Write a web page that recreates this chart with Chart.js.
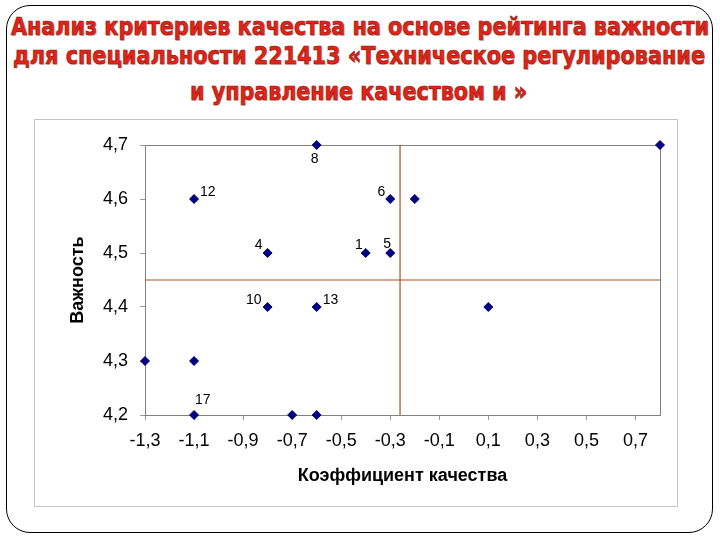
<!DOCTYPE html>
<html>
<head>
<meta charset="utf-8">
<script src="https://cdn.jsdelivr.net/npm/chart.js@4/dist/chart.umd.min.js"></script>
<style>
  html, body { margin: 0; padding: 0; background: #fff; }
  #slide { position: relative; width: 720px; height: 540px; overflow: hidden; background: #fff; }
  #frame {
    position: absolute; left: 6px; top: 5px; width: 707px; height: 528px;
    border: 1.5px solid #000; border-radius: 24px; box-sizing: border-box;
  }
  .tl {
    position: absolute; white-space: nowrap;
    font: bold 25px "DejaVu Sans"; line-height: 25px;
    color: #E2231A; -webkit-text-stroke: 0.7px #8E1A10;
    text-shadow: 1px 1px 1px rgba(150, 60, 40, 0.35);
    transform-origin: 0 0;
  }
  #box {
    position: absolute; left: 34px; top: 119px; width: 644px; height: 388px;
    border: 1px solid #c4c4c4; box-sizing: border-box;
  }
  #wrap { position: absolute; left: 34px; top: 119px; width: 644px; height: 388px; }
</style>
</head>
<body>
<div id="slide">
  <div id="frame"></div>
  <div class="tl" data-w="698" data-c="360" style="top:14px">Анализ критериев качества на основе рейтинга важности</div>
  <div class="tl" data-w="692" data-c="359" style="top:43px">для специальности 221413 «Техническое регулирование</div>
  <div class="tl" data-w="337" data-c="358" style="top:79px">и управление качеством и »</div>
  <div id="box"></div>
  <div id="wrap"><canvas id="chart" width="644" height="388"></canvas></div>
</div>
<script>
// data
const qualityCoef = [-1.3, -1.1, -1.1, -1.1, -0.8, -0.8, -0.6, -0.6, -0.7, -0.6, -0.4, -0.3, -0.3, -0.2, 0.1, 0.8];
const importance  = [4.3, 4.3, 4.2, 4.6, 4.5, 4.4, 4.7, 4.4, 4.2, 4.2, 4.5, 4.5, 4.6, 4.6, 4.4, 4.7];
const criterionNo = ["", "", "17", "12", "4", "10", "8", "13", "", "", "1", "5", "6", "", "", ""];
const xTicks = [-1.3, -1.1, -0.9, -0.7, -0.5, -0.3, -0.1, 0.1, 0.3, 0.5, 0.7];
const yTicks = [4.2, 4.3, 4.4, 4.5, 4.6, 4.7];
const xRange = [-1.3, 0.8];
const yRange = [4.2, 4.7];
const avgQuality = -0.26;
const avgImportance = 4.45;

// where each point label sits relative to its marker: [dx, dy, align]
const labelPlacement = {
  "8": [-2, 14, "center"], "12": [6, -7, "left"], "6": [-5, -7, "right"],
  "4": [-5, -8, "right"], "1": [-3, -8, "right"], "5": [-3, -9, "center"],
  "10": [-6, -7, "right"], "13": [6, -7, "left"], "17": [1, -15, "left"]
};

// fit title lines to their widths
document.querySelectorAll(".tl").forEach((el) => {
  const target = +el.dataset.w;
  const w = el.getBoundingClientRect().width;
  el.style.left = (+el.dataset.c - target / 2) + "px";
  el.style.transform = `scaleX(${target / w})`;
});

const FONT = "Liberation Sans";
const fmt = (v) => Number(v).toFixed(1).replace(".", ",");

const plotFrame = {
  id: "plotFrame",
  beforeDatasetsDraw(chart) {
    const { ctx, chartArea: a } = chart;
    ctx.save();
    ctx.strokeStyle = "#808080";
    ctx.lineWidth = 1;
    ctx.strokeRect(Math.round(a.left) + 0.5, Math.round(a.top) + 0.5,
      Math.round(a.right - a.left), Math.round(a.bottom - a.top));
    ctx.restore();
  }
};

const pointLabels = {
  id: "pointLabels",
  afterDatasetsDraw(chart) {
    const { ctx } = chart;
    const meta = chart.getDatasetMeta(0);
    ctx.save();
    ctx.font = `14px "${FONT}"`;
    ctx.fillStyle = "#000";
    ctx.textBaseline = "middle";
    meta.data.forEach((pt, i) => {
      const txt = criterionNo[i];
      if (!txt) return;
      const [dx, dy, align] = labelPlacement[txt] || [5, -8, "left"];
      ctx.textAlign = align;
      ctx.fillText(txt, pt.x + dx, pt.y + dy);
    });
    ctx.restore();
  }
};

new Chart(document.getElementById("chart"), {
  type: "scatter",
  data: {
    datasets: [
      {
        data: qualityCoef.map((x, i) => ({ x, y: importance[i] })),
        backgroundColor: "#000080",
        borderColor: "#000080",
        borderWidth: 1,
        pointStyle: "rectRot",
        pointRadius: 4.5,
        clip: false,
        order: 0
      },
      {
        data: [{ x: avgQuality, y: yRange[0] }, { x: avgQuality, y: yRange[1] }],
        showLine: true,
        borderColor: "#A8521F",
        borderWidth: 1.2,
        pointRadius: 0,
        order: 1
      },
      {
        data: [{ x: xRange[0], y: avgImportance }, { x: xRange[1], y: avgImportance }],
        showLine: true,
        borderColor: "#A8521F",
        borderWidth: 1.2,
        pointRadius: 0,
        order: 1
      }
    ]
  },
  options: {
    responsive: false,
    animation: false,
    devicePixelRatio: 1,
    layout: { padding: { left: 29, right: 18, top: 26, bottom: 20 } },
    plugins: { legend: { display: false }, tooltip: { enabled: false }, title: { display: false } },
    scales: {
      x: {
        type: "linear",
        min: xRange[0],
        max: xRange[1],
        afterBuildTicks: (s) => { s.ticks = xTicks.map((v) => ({ value: v })); },
        afterFit: (s) => { s.height = 72; },
        ticks: {
          callback: fmt, color: "#000", padding: 10, autoSkip: false, maxRotation: 0,
          font: { family: FONT, size: 18 }
        },
        grid: { drawOnChartArea: false, drawTicks: true, tickLength: 5, color: "#9a9a9a" },
        border: { display: true, color: "#808080" },
        title: {
          display: true, text: "Коэффициент качества", color: "#000",
          font: { family: FONT, size: 18, weight: "bold" }, padding: { top: 4, bottom: 0 }
        }
      },
      y: {
        type: "linear",
        min: yRange[0],
        max: yRange[1],
        afterBuildTicks: (s) => { s.ticks = yTicks.map((v) => ({ value: v })); },
        afterFit: (s) => { s.width = 82; },
        ticks: {
          callback: fmt, color: "#000", padding: 12,
          font: { family: FONT, size: 18 }
        },
        grid: { drawOnChartArea: false, drawTicks: true, tickLength: 5, color: "#9a9a9a" },
        border: { display: true, color: "#808080" },
        title: {
          display: true, text: "Важность", color: "#000",
          font: { family: FONT, size: 18, weight: "bold" }, padding: { top: 4, bottom: 0 }
        }
      }
    }
  },
  plugins: [plotFrame, pointLabels]
});
</script>
</body>
</html>
